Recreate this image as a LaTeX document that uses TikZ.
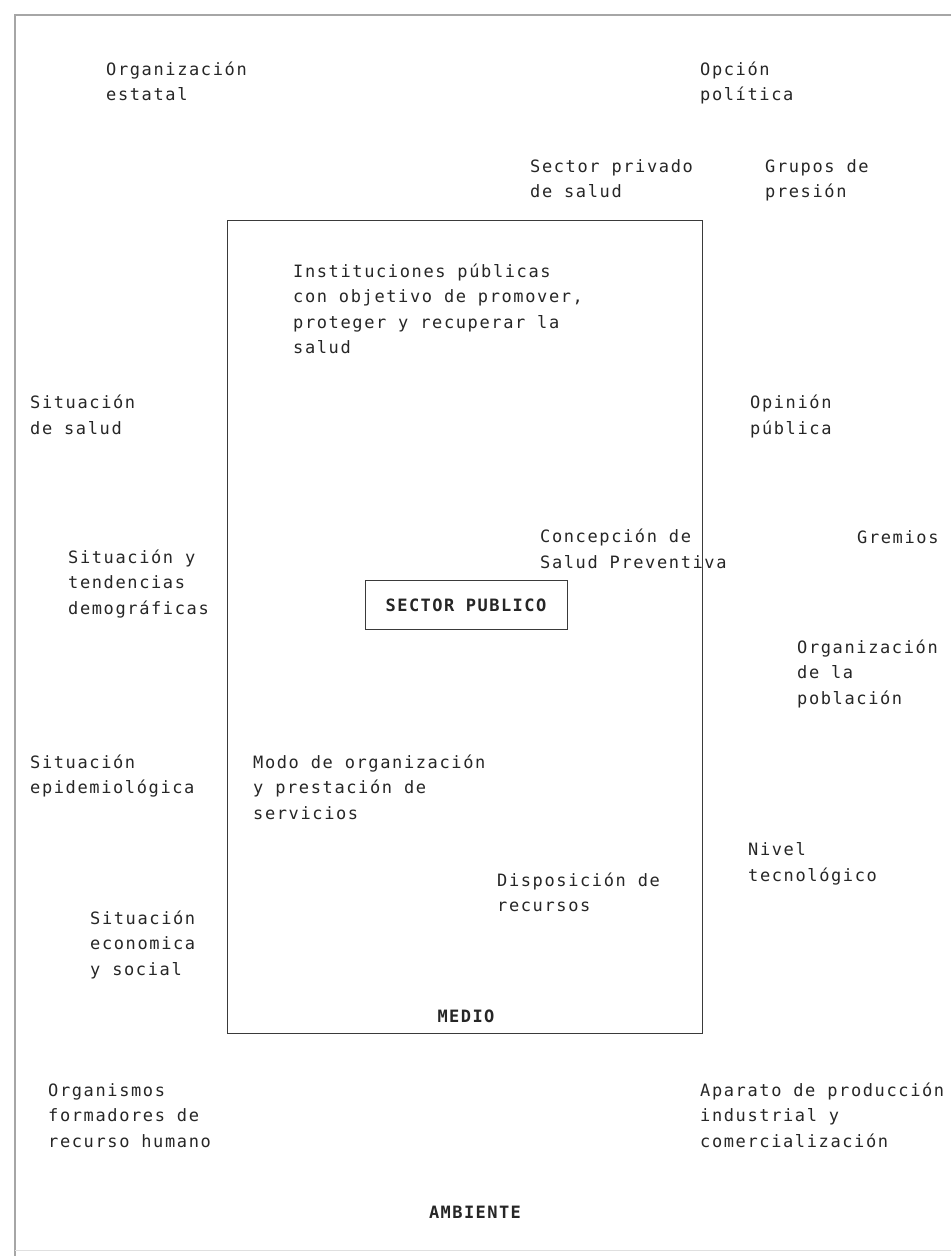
\documentclass[tikz,border=0pt]{standalone}
\usepackage{fontspec}
\newfontfamily\tf{DejaVu Sans Mono}[LetterSpace=9.5]
\newfontfamily\tfb{DejaVu Sans Mono Bold}[LetterSpace=8.5]
\definecolor{ink}{HTML}{262626}
\definecolor{rule}{HTML}{3A3A3A}
\begin{document}
\begin{tikzpicture}[x=1pt,y=-1pt,
  % multi-line labels: the given point is the baseline of the last line
  lbl/.style={anchor=base west, align=left, inner sep=0pt, text=ink,
              font=\tf\fontsize{17}{25.5}\selectfont},
  bold/.style={anchor=base, inner sep=0pt, text=ink,
              font=\tfb\fontsize{17}{25.5}\selectfont},
  frame/.style={draw=rule, line width=1.3pt}]
\useasboundingbox[fill=white] (0,0) rectangle (951,1256);

% outer border of the environment
\coordinate (otl) at (15,15);
\coordinate (otr) at (951,15);
\coordinate (obl) at (15,1256);
\draw[draw=gray!70, line width=1.3pt] (otr) -- (otl) -- (obl);
\draw[draw=gray!25, line width=1pt] (15,1250) -- (951,1250);

% the public sector (inner box)
\node[frame, minimum width=475pt, minimum height=813pt, inner sep=0pt, anchor=north west] (medio) at (227,220) {};
\node[frame, line width=1pt, minimum width=202pt, minimum height=49pt, inner sep=0pt] (sp) at (466,604.5) {};
\node[bold] (sptext) at (466,611) {SECTOR PUBLICO};

% labels inside the box
\node[lbl] (inst) at (293,353.5) {Instituciones públicas\\con objetivo de promover,\\proteger y recuperar la\\salud};
\node[lbl] (conc) at (540,568) {Concepción de\\Salud Preventiva};
\node[lbl] (modo) at (253,819) {Modo de organización\\y prestación de\\servicios};
\node[lbl] (disp) at (497,911.5) {Disposición de\\recursos};
\node[bold] (medlbl) at (466,1022) {MEDIO};

% environment, left side
\node[lbl] (orgest) at (106,100.5) {Organización\\estatal};
\node[lbl] (sitsal) at (30,434) {Situación\\de salud};
\node[lbl] (sitdem) at (68,614) {Situación y\\tendencias\\demográficas};
\node[lbl] (sitepi) at (30,793.5) {Situación\\epidemiológica};
\node[lbl] (siteco) at (90,975) {Situación\\economica\\y social};
\node[lbl] (orgfor) at (48,1147) {Organismos\\formadores de\\recurso humano};

% environment, right side
\node[lbl] (opcion) at (700,100.5) {Opción\\política};
\node[lbl] (secpriv) at (530,197.5) {Sector privado\\de salud};
\node[lbl] (grupos) at (765,197.5) {Grupos de\\presión};
\node[lbl] (opinion) at (750,434) {Opinión\\pública};
\node[lbl] (gremios) at (857,543) {Gremios};
\node[lbl] (orgpob) at (797,704) {Organización\\de la\\población};
\node[lbl] (nivel) at (748,881) {Nivel\\tecnológico};
\node[lbl] (aparato) at (700,1147) {Aparato de producción\\industrial y\\comercialización};

\node[bold] (amb) at (475,1218) {AMBIENTE};
\end{tikzpicture}
\end{document}
